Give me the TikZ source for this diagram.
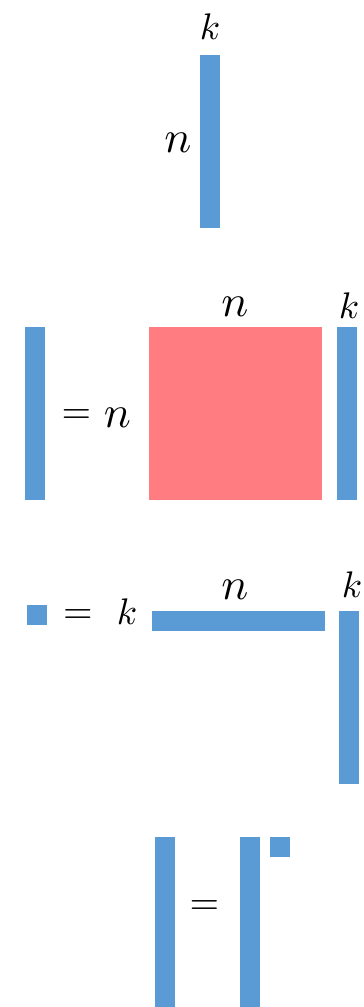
\documentclass[tikz,border=0pt]{standalone}
\newcommand{\mylbl}[2][3.9]{\scalebox{#1}{$#2$}}
\begin{document}
\begin{tikzpicture}[x=1pt,y=-1pt,
  blk/.style={fill=blueM,draw=none,inner sep=0pt,outer sep=0pt,rectangle},
  redblk/.style={fill=redM,draw=none,inner sep=0pt,outer sep=0pt,rectangle},
  lbl/.style={inner sep=0pt}]
\definecolor{blueM}{HTML}{5B9BD5}
\definecolor{redM}{HTML}{FF7C80}
\useasboundingbox (0,0) rectangle (364,1007);
% row 1
\node[blk,minimum width=20pt,minimum height=173pt] (b1) at (210,141.5) {};
\node[lbl] (k1) at (210,27) {\mylbl[3.7]{k}};
\node[lbl] (n1) at (178,143) {\mylbl[4.5]{n}};
% row 2
\node[blk,minimum width=20pt,minimum height=173pt] (b2) at (35,413.5) {};
\node[lbl] (eq2) at (76.5,417) {\mylbl[3.8]{=}};
\node[lbl] (n2b) at (117.5,418) {\mylbl[4.5]{n}};
\node[redblk,minimum width=173pt,minimum height=173pt] (r2) at (235.5,413.5) {};
\node[lbl] (n2) at (235,307) {\mylbl[4.5]{n}};
\node[blk,minimum width=20pt,minimum height=173pt] (b3) at (347,413.5) {};
\node[lbl] (k2) at (349,306) {\mylbl[3.7]{k}};
% row 3
\node[blk,minimum width=20pt,minimum height=20pt] (s3) at (37,615) {};
\node[lbl] (eq3) at (78,617) {\mylbl[3.8]{=}};
\node[lbl] (k3) at (127,612) {\mylbl[3.7]{k}};
\node[blk,minimum width=173pt,minimum height=20pt] (h3) at (238.5,621) {};
\node[lbl] (n3) at (235,590) {\mylbl[4.5]{n}};
\node[blk,minimum width=20pt,minimum height=173pt] (v3) at (349,697.5) {};
\node[lbl] (k4) at (352,585) {\mylbl[3.7]{k}};
% row 4
\node[blk,minimum width=20pt,minimum height=170pt] (b4) at (165,922) {};
\node[lbl] (eq4) at (204.5,908) {\mylbl[3.8]{=}};
\node[blk,minimum width=20pt,minimum height=170pt] (b5) at (250,922) {};
\node[blk,minimum width=20pt,minimum height=20pt] (s4) at (280,847) {};
\end{tikzpicture}
\end{document}
